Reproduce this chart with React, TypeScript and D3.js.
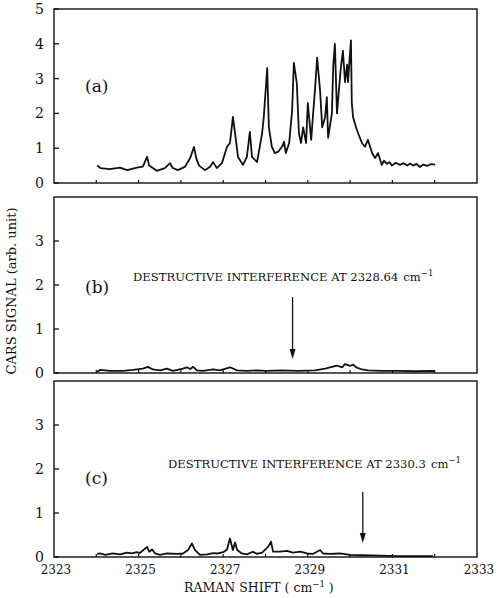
import React from 'react';
import * as d3 from 'd3';

// Raman shift (cm^-1) and CARS signal
const shiftA = [2324.02, 2324.1, 2324.32, 2324.56, 2324.73, 2324.96, 2325.1, 2325.2, 2325.25, 2325.43, 2325.62, 2325.74, 2325.81, 2325.93, 2326.1, 2326.22, 2326.31, 2326.36, 2326.43, 2326.57, 2326.69, 2326.76, 2326.85, 2326.97, 2327.09, 2327.16, 2327.23, 2327.3, 2327.35, 2327.47, 2327.56, 2327.63, 2327.68, 2327.8, 2327.92, 2327.96, 2328.04, 2328.08, 2328.15, 2328.22, 2328.3, 2328.39, 2328.44, 2328.48, 2328.56, 2328.63, 2328.67, 2328.74, 2328.79, 2328.84, 2328.89, 2328.96, 2329.0, 2329.08, 2329.12, 2329.17, 2329.22, 2329.29, 2329.34, 2329.41, 2329.45, 2329.48, 2329.57, 2329.6, 2329.64, 2329.69, 2329.71, 2329.78, 2329.83, 2329.88, 2329.93, 2329.95, 2330.02, 2330.04, 2330.07, 2330.14, 2330.19, 2330.28, 2330.35, 2330.42, 2330.52, 2330.59, 2330.66, 2330.75, 2330.8, 2330.87, 2330.93, 2330.99, 2331.08, 2331.18, 2331.27, 2331.35, 2331.42, 2331.49, 2331.57, 2331.65, 2331.73, 2331.82, 2331.9, 2332.01];
const signalA = [0.5, 0.43, 0.4, 0.44, 0.37, 0.44, 0.47, 0.75, 0.5, 0.35, 0.43, 0.57, 0.43, 0.37, 0.47, 0.72, 1.04, 0.72, 0.5, 0.37, 0.47, 0.6, 0.43, 0.57, 1.04, 1.15, 1.9, 1.24, 0.75, 0.52, 0.75, 1.47, 0.75, 0.6, 1.43, 1.9, 3.3, 1.6, 1.04, 0.86, 0.9, 1.04, 1.18, 0.86, 1.15, 2.1, 3.45, 2.87, 1.43, 1.15, 1.6, 1.15, 2.3, 1.24, 1.9, 2.67, 3.6, 2.67, 1.6, 1.9, 2.47, 1.3, 2.0, 3.33, 4.0, 2.0, 2.3, 3.3, 3.8, 2.9, 3.4, 2.9, 4.1, 2.3, 1.9, 1.6, 1.43, 1.15, 1.04, 1.24, 0.86, 0.72, 0.86, 0.52, 0.64, 0.55, 0.6, 0.5, 0.58, 0.52, 0.57, 0.5, 0.56, 0.5, 0.55, 0.46, 0.53, 0.49, 0.54, 0.53];

const shiftB = [2324.02, 2324.09, 2324.32, 2324.63, 2324.87, 2325.1, 2325.22, 2325.34, 2325.51, 2325.67, 2325.81, 2326.05, 2326.14, 2326.22, 2326.29, 2326.38, 2326.52, 2326.76, 2326.92, 2327.16, 2327.33, 2327.56, 2327.8, 2328.02, 2328.39, 2328.77, 2329.17, 2329.41, 2329.57, 2329.69, 2329.81, 2329.88, 2330.0, 2330.07, 2330.16, 2330.28, 2330.42, 2330.75, 2331.13, 2331.53, 2331.94, 2332.0];
const signalB = [0.03, 0.07, 0.05, 0.05, 0.07, 0.1, 0.14, 0.08, 0.06, 0.1, 0.05, 0.1, 0.13, 0.09, 0.14, 0.06, 0.05, 0.08, 0.06, 0.13, 0.06, 0.05, 0.06, 0.05, 0.06, 0.05, 0.06, 0.1, 0.14, 0.17, 0.13, 0.2, 0.16, 0.19, 0.12, 0.08, 0.06, 0.05, 0.05, 0.04, 0.05, 0.04];

const shiftC = [2324.02, 2324.09, 2324.21, 2324.39, 2324.56, 2324.73, 2324.84, 2324.96, 2325.03, 2325.2, 2325.25, 2325.32, 2325.39, 2325.51, 2325.67, 2325.91, 2326.05, 2326.17, 2326.26, 2326.33, 2326.45, 2326.62, 2326.76, 2326.88, 2327.0, 2327.09, 2327.16, 2327.23, 2327.28, 2327.33, 2327.44, 2327.56, 2327.7, 2327.8, 2327.92, 2328.06, 2328.13, 2328.18, 2328.34, 2328.51, 2328.65, 2328.82, 2328.98, 2329.12, 2329.29, 2329.36, 2329.52, 2329.76, 2330.0, 2330.31, 2330.71, 2331.11, 2331.58, 2331.96];
const signalC = [0.07, 0.08, 0.05, 0.08, 0.06, 0.1, 0.08, 0.11, 0.09, 0.23, 0.12, 0.17, 0.08, 0.05, 0.08, 0.07, 0.08, 0.16, 0.31, 0.16, 0.05, 0.06, 0.09, 0.08, 0.11, 0.17, 0.42, 0.16, 0.33, 0.16, 0.08, 0.06, 0.12, 0.07, 0.1, 0.23, 0.35, 0.12, 0.12, 0.14, 0.1, 0.12, 0.08, 0.07, 0.16, 0.08, 0.07, 0.08, 0.05, 0.04, 0.03, 0.02, 0.02, 0.02];

const xTickLabels = ['2323', '2325', '2327', '2329', '2331', '2333'];
const yTicksA = [0, 1, 2, 3, 4, 5];
const yTicksBC = [0, 1, 2, 3];

const FONT = 'DejaVu Serif, Liberation Serif, serif';
const X0 = 54;
const X1 = 477;

const x = d3.scaleLinear().domain([2323, 2333]).range([X0, X1]);
const minorTicks = d3.range(2324, 2333);

type PanelProps = {
  shift: number[];
  signal: number[];
  top: number;
  bottom: number;
  yMax: number;
  yTicks: number[];
  tag: string;
  tagY: number;
  note?: string;
  noteX?: number;
  noteY?: number;
  arrowAt?: number;
  arrowTop?: number;
  showX?: boolean;
};

function Panel(p: PanelProps) {
  const y = d3.scaleLinear().domain([0, p.yMax]).range([p.bottom, p.top]);
  const pts = p.shift.map((s, i) => [s, p.signal[i]] as [number, number]);
  const line = d3.line<[number, number]>().x(d => x(d[0])).y(d => y(d[1]));
  return (
    <g>
      <rect x={X0} y={p.top} width={X1 - X0} height={p.bottom - p.top} fill="none" stroke="#111" strokeWidth={1.4} />
      {p.yTicks.map(t => (
        <g key={t}>
          <line x1={X0} x2={X0 + 5} y1={y(t)} y2={y(t)} stroke="#111" strokeWidth={1.3} />
          <text x={44} y={y(t) + 5} textAnchor="end" fontSize={14} fontFamily={FONT} fill="#111">{t}</text>
        </g>
      ))}
      {minorTicks.map(t => (
        <line key={t} x1={x(t)} x2={x(t)} y1={p.bottom} y2={p.bottom - 3} stroke="#111" strokeWidth={1.2} />
      ))}
      {p.showX && xTickLabels.map(l => (
        <text key={l} x={x(+l) + 2} y={574} textAnchor="middle" fontSize={12} fontFamily={FONT} fill="#111">{l}</text>
      ))}
      <path d={line(pts) || ''} fill="none" stroke="#111" strokeWidth={1.8} strokeLinejoin="round" />
      <text x={85} y={p.tagY} fontSize={17} fontFamily={FONT} fill="#111">{p.tag}</text>
      {p.note && (
        <text x={p.noteX} y={p.noteY} fontSize={11.6} fontFamily={FONT} fill="#111">
          {p.note}
          <tspan dx={5}>cm</tspan>
          <tspan dy={-5} fontSize={8.5}>−1</tspan>
        </text>
      )}
      {p.arrowAt !== undefined && (
        <g>
          <line x1={x(p.arrowAt)} x2={x(p.arrowAt)} y1={p.arrowTop} y2={p.bottom - 22} stroke="#111" strokeWidth={1.3} />
          <path
            d={`M${x(p.arrowAt) - 3},${p.bottom - 24} L${x(p.arrowAt) + 3},${p.bottom - 24} L${x(p.arrowAt)},${p.bottom - 14} Z`}
            fill="#111"
          />
        </g>
      )}
    </g>
  );
}

export default function App() {
  return (
    <svg width={498} height={598} style={{ position: 'absolute', left: 0, top: 0, background: '#fff' }}>
      <Panel shift={shiftA} signal={signalA} top={9} bottom={183} yMax={5} yTicks={yTicksA} tag="(a)" tagY={92} />
      <Panel
        shift={shiftB} signal={signalB} top={197} bottom={373} yMax={4} yTicks={yTicksBC} tag="(b)" tagY={293}
        note="DESTRUCTIVE INTERFERENCE AT 2328.64" noteX={133} noteY={281} arrowAt={2328.64} arrowTop={297}
      />
      <Panel
        shift={shiftC} signal={signalC} top={381} bottom={557} yMax={4} yTicks={yTicksBC} tag="(c)" tagY={484}
        note="DESTRUCTIVE INTERFERENCE AT 2330.3" noteX={168} noteY={468} arrowAt={2330.3} arrowTop={492} showX
      />
      <text transform="translate(16,291) rotate(-90)" textAnchor="middle" fontSize={13} fontFamily={FONT} fill="#111">
        CARS SIGNAL (arb. unit)
      </text>
      <text x={184} y={592} fontSize={12.5} fontFamily={FONT} fill="#111">
        RAMAN SHIFT (  cm<tspan dy={-5} fontSize={8.5}>−1</tspan><tspan dy={5}>  )</tspan>
      </text>
    </svg>
  );
}
